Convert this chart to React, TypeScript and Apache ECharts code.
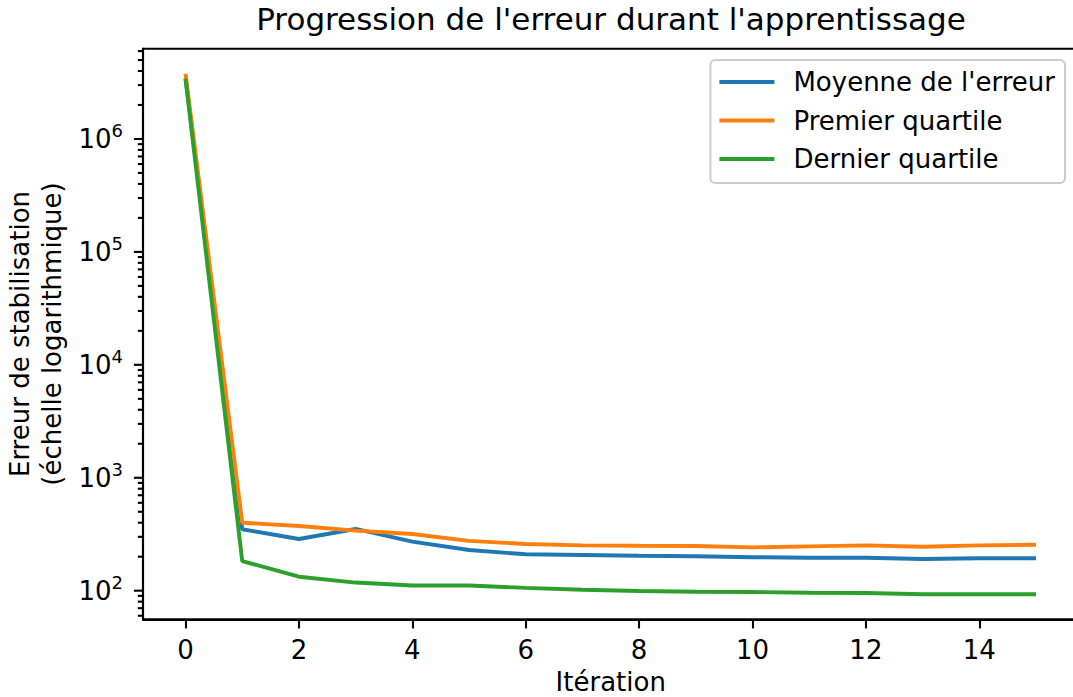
import React, { useEffect, useRef } from "react";
import * as echarts from "echarts";

const TITLE = "Progression de l'erreur durant l'apprentissage";
const X_NAME = "Itération";
const Y_NAME = "Erreur de stabilisation\n(échelle logarithmique)";

const ITERATIONS = [0, 1, 2, 3, 4, 5, 6, 7, 8, 9, 10, 11, 12, 13, 14, 15];
const MEAN_ERROR = [3.45e6, 350, 287, 352, 272, 229, 210, 207, 204, 202, 198, 196, 196, 191, 194, 194];
const FIRST_QUARTILE = [3.78e6, 400, 374, 340, 318, 276, 259, 252, 250, 249, 242, 247, 252, 245, 252, 255];
const LAST_QUARTILE = [3.42e6, 183, 133, 118, 111, 111, 106, 102, 99.4, 98, 97.4, 96, 95.4, 92.9, 92.9, 92.9];

const SERIES_NAMES = ["Moyenne de l'erreur", "Premier quartile", "Dernier quartile"];
const SERIES_COLORS = ["#1f77b4", "#ff7f0e", "#2ca02c"];

const X_TICKS = [0, 2, 4, 6, 8, 10, 12, 14];
const X_MIN = -0.75;
const X_MAX = 15.75;
const Y_MIN = 55.8;
const Y_MAX = 6.3e6;
const Y_MAJOR_TICKS = [1e2, 1e3, 1e4, 1e5, 1e6];
const Y_MINOR_TICKS = [
  60, 70, 80, 90,
  200, 300, 400, 500, 600, 700, 800, 900,
  2000, 3000, 4000, 5000, 6000, 7000, 8000, 9000,
  2e4, 3e4, 4e4, 5e4, 6e4, 7e4, 8e4, 9e4,
  2e5, 3e5, 4e5, 5e5, 6e5, 7e5, 8e5, 9e5,
  2e6, 3e6, 4e6, 5e6, 6e6,
];

const FONT = "DejaVu Sans";

export default function App() {
  const ref = useRef<HTMLDivElement>(null);

  useEffect(() => {
    if (!ref.current) return;
    const chart = echarts.init(ref.current, null, { renderer: "svg" });

    const toPairs = (vals: number[]) => ITERATIONS.map((x, i) => [x, vals[i]]);
    const seriesValues = [MEAN_ERROR, FIRST_QUARTILE, LAST_QUARTILE];

    const tickData = [
      ...Y_MAJOR_TICKS.map((v) => [X_MIN, v, 9.1]),
      ...Y_MINOR_TICKS.map((v) => [X_MIN, v, 5.2]),
    ];

    chart.setOption({
      animation: false,
      backgroundColor: "#ffffff",
      textStyle: { fontFamily: FONT, color: "#000" },
      title: {
        text: TITLE,
        left: 611,
        top: 3,
        padding: 0,
        textAlign: "center",
        textStyle: { fontFamily: FONT, fontSize: 31, fontWeight: "normal", color: "#000" },
      },
      legend: {
        data: SERIES_NAMES,
        orient: "vertical",
        right: 8,
        top: 60,
        icon: "rect",
        itemWidth: 55,
        itemHeight: 4,
        itemGap: 12.5,
        padding: [9, 10, 11, 9],
        backgroundColor: "rgba(255,255,255,0.8)",
        borderColor: "#cccccc",
        borderWidth: 2,
        borderRadius: 5,
        textStyle: { fontFamily: FONT, fontSize: 26, color: "#000", padding: [0, 0, 0, 14] },
      },
      grid: {
        left: 143,
        right: -5.5,
        top: 48.7,
        bottom: 77.7,
        outerBoundsMode: "none",
        containLabel: false,
        show: true,
        borderColor: "#000",
        borderWidth: 2.1,
        backgroundColor: "transparent",
      },
      xAxis: {
        type: "value",
        min: X_MIN,
        max: X_MAX,
        name: X_NAME,
        nameLocation: "middle",
        nameGap: 50,
        nameTextStyle: { fontFamily: FONT, fontSize: 26, color: "#000" },
        splitLine: { show: false },
        axisLine: { show: true, onZero: false, lineStyle: { color: "#000", width: 2.1 } },
        axisTick: {
          show: true,
          length: 9.1,
          customValues: X_TICKS,
          lineStyle: { color: "#000", width: 2.1 },
        },
        axisLabel: {
          customValues: X_TICKS,
          fontFamily: FONT,
          fontSize: 26,
          color: "#000",
          margin: 18,
        },
      },
      yAxis: {
        type: "log",
        logBase: 10,
        min: Y_MIN,
        max: Y_MAX,
        name: Y_NAME,
        nameLocation: "middle",
        nameRotate: 90,
        nameGap: 71,
        nameTextStyle: { fontFamily: FONT, fontSize: 26, lineHeight: 32, color: "#000" },
        splitLine: { show: false },
        axisLine: { show: true, onZero: false, lineStyle: { color: "#000", width: 2.1 } },
        axisTick: { show: false },
        axisLabel: {
          showMinLabel: false,
          showMaxLabel: false,
          margin: 20,
          color: "#000",
          formatter: (v: number) => {
            const e = Math.log10(Number(v));
            const r = Math.round(e);
            if (Math.abs(e - r) > 1e-4) return "";
            return `{b|10}{s|${r}}`;
          },
          rich: {
            b: { fontFamily: FONT, fontSize: 26, lineHeight: 34, color: "#000" },
            s: { fontFamily: FONT, fontSize: 18, lineHeight: 18, verticalAlign: "top", color: "#000" },
          },
        },
      },
      series: [
        ...SERIES_NAMES.map((name, i) => ({
          name,
          type: "line",
          data: toPairs(seriesValues[i]),
          showSymbol: false,
          symbol: "none",
          color: SERIES_COLORS[i],
          lineStyle: { color: SERIES_COLORS[i], width: 3.9 },
          z: 2 + i,
        })),
        {
          type: "custom",
          silent: true,
          clip: false,
          data: tickData,
          encode: { x: 0, y: 1 },
          renderItem: (_params: any, api: any) => {
            const p = api.coord([api.value(0), api.value(1)]);
            const len = api.value(2);
            return {
              type: "line",
              shape: { x1: p[0] - len, y1: p[1], x2: p[0], y2: p[1] },
              style: { stroke: "#000", lineWidth: 2.1 },
            };
          },
          z: 10,
        },
      ],
    });

    return () => chart.dispose();
  }, []);

  return (
    <div
      ref={ref}
      style={{ position: "fixed", left: 0, top: 0, width: 1073, height: 697, background: "#fff" }}
    />
  );
}
